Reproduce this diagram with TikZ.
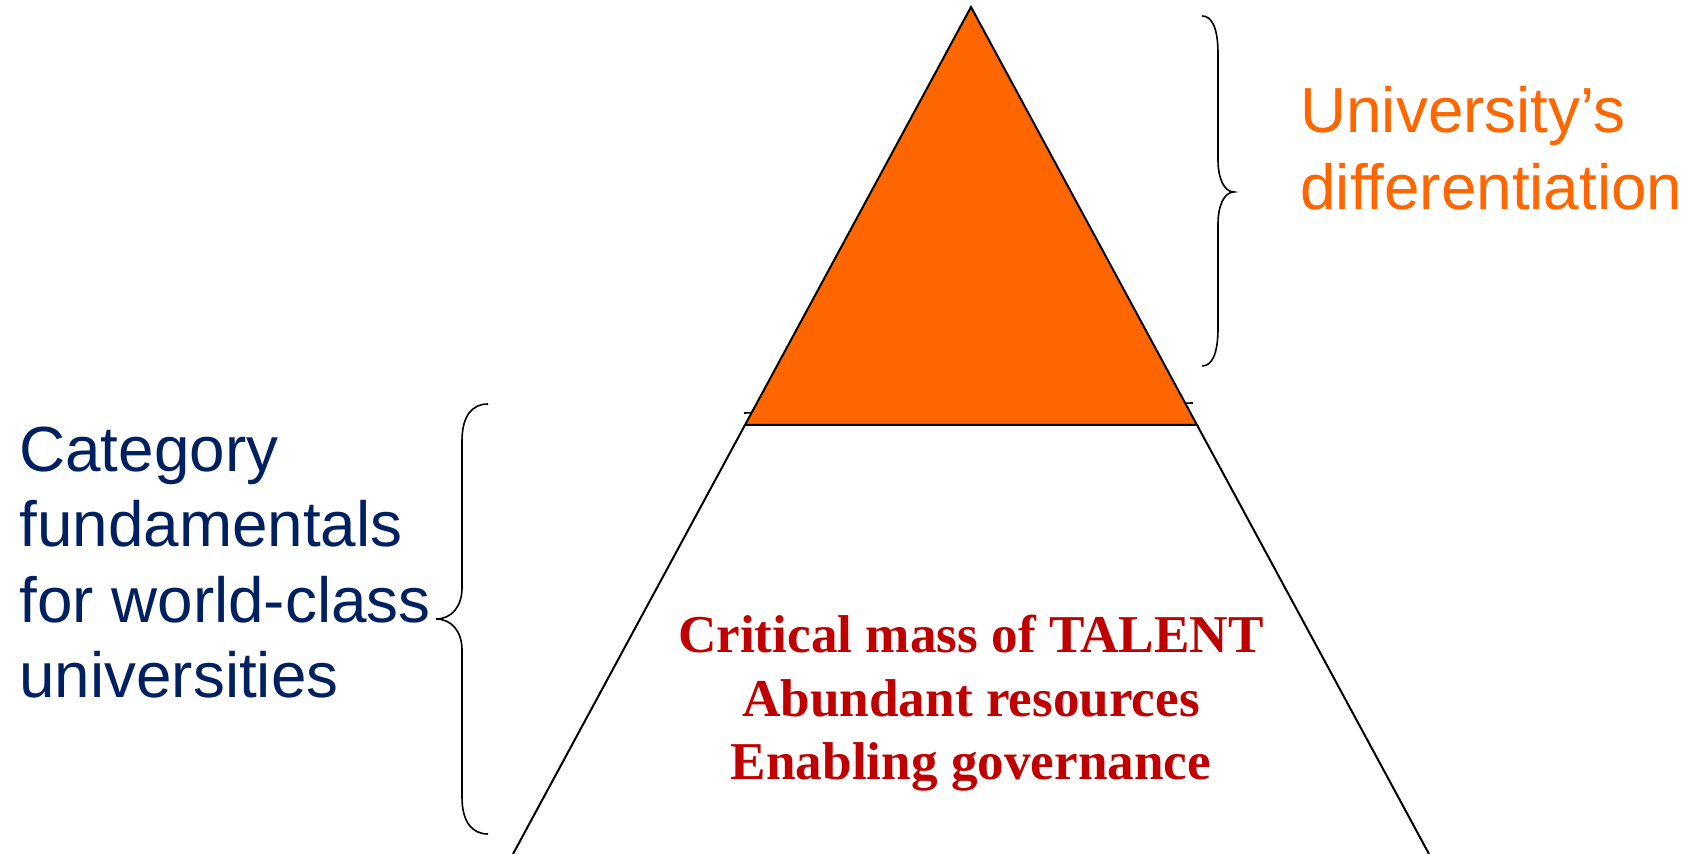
\documentclass[tikz,border=0pt]{standalone}
\usepackage{fontspec}
\newfontfamily\arialf{Liberation Sans}
\newfontfamily\timesf{Liberation Serif}
\definecolor{uorange}{HTML}{FF6600}
\definecolor{unavy}{HTML}{002060}
\definecolor{ured}{HTML}{C00000}
\tikzset{
  outline/.style={draw=black, line width=1pt, line join=miter},
  bracestyle/.style={draw=black, line width=0.8pt},
  bluetext/.style={anchor=base west, inner sep=0pt, text=unavy, font=\arialf\fontsize{31.9pt}{38pt}\selectfont},
  orangetext/.style={anchor=base west, inner sep=0pt, text=uorange, font=\arialf\fontsize{31.9pt}{38pt}\selectfont},
  redtext/.style={anchor=base, inner sep=0pt, text=ured, font=\timesf\bfseries\fontsize{26.6pt}{32pt}\selectfont}
}
\begin{document}
\begin{tikzpicture}[x=0.5pt, y=-0.5pt]
\useasboundingbox (0,0) rectangle (1688,854);
\fill[white] (0,0) rectangle (1688,854);
% coordinates
\coordinate (apex) at (971,7);
\coordinate (bl) at (745,425);
\coordinate (br) at (1197,425);
\coordinate (footl) at (513,854);
\coordinate (footr) at (1429,854);
\coordinate (tickl) at (744,413);
\coordinate (tickr) at (1193,403);
% hidden line behind the top triangle
\draw[line width=0.8pt] (tickl) -- (tickr);
% top triangle
\filldraw[outline, fill=uorange] (apex) -- (bl) -- (br) -- cycle;
% lower sides of the pyramid
\draw[outline] (bl) -- (footl);
\draw[outline] (br) -- (footr);
% right brace
\draw[bracestyle] (1202,16) .. controls (1212,16) and (1218,28) .. (1218,54) -- (1218,160)
  .. controls (1218,178) and (1224,192) .. (1234,192)
  .. controls (1224,192) and (1218,206) .. (1218,224) -- (1218,328)
  .. controls (1218,354) and (1212,366) .. (1202,366);
% left brace
\draw[bracestyle] (488,404) .. controls (472,404) and (462,416) .. (462,441) -- (462,588)
  .. controls (462,606) and (452,619) .. (436,619)
  .. controls (452,619) and (462,632) .. (462,650) -- (462,797)
  .. controls (462,822) and (472,834) .. (488,834);
% right text
\node[orangetext] (u1) at (1300,133) {University’s};
\node[orangetext] (u2) at (1300,210) {differentiation};
% left text
\node[bluetext] (c1) at (19,472) {Category};
\node[bluetext] (c2) at (19,547) {fundamentals};
\node[bluetext] (c3) at (19,623) {for world-class};
\node[bluetext] (c4) at (19,698) {universities};
% red text
\node[redtext] (r1) at (971,653) {Critical mass of TALENT};
\node[redtext] (r2) at (971,717) {Abundant resources};
\node[redtext] (r3) at (971,780) {Enabling governance};
\end{tikzpicture}
\end{document}
